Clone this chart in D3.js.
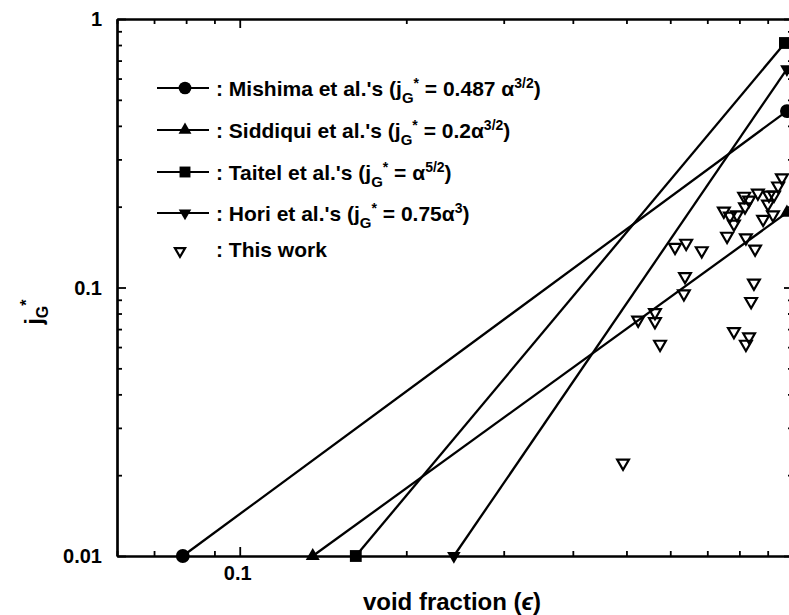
<!DOCTYPE html>
<head>
    <title>void fraction vs jG*</title>
    <meta charset="utf-8">
    <style>
        body { margin: 0; background: #fff; }
        svg { display: block; font-family: "Liberation Sans", Arial, sans-serif; font-weight: bold; }
    </style>
</head>

<body>

<div id="chart"></div>

<script src="https://d3js.org/d3.v7.min.js"></script>

<script>

var width = 789,
    height = 615;

// correlation lines, end points (alpha, jG*)
var mishimaAlpha = [0.0789, 0.975],  mishimaJ = [0.01, 0.454];
var siddiquiAlpha = [0.1355, 0.975], siddiquiJ = [0.01, 0.19];
var taitelAlpha = [0.1621, 0.967],   taitelJ = [0.01, 0.814];
var horiAlpha = [0.2438, 0.975],     horiJ = [0.01, 0.651];

// measured points ("This work")
var workAlpha = [0.493, 0.525, 0.563, 0.563, 0.575, 0.612, 0.641, 0.638, 0.635, 0.684,
                 0.750, 0.769, 0.782, 0.792, 0.760, 0.816, 0.833, 0.819, 0.822, 0.854,
                 0.864, 0.905, 0.924, 0.901, 0.883, 0.920, 0.940, 0.955, 0.850, 0.840,
                 0.782, 0.833, 0.822];
var workJ = [0.022, 0.075, 0.080, 0.074, 0.061, 0.140, 0.145, 0.109, 0.094, 0.136,
             0.191, 0.183, 0.171, 0.185, 0.154, 0.217, 0.210, 0.198, 0.152, 0.138,
             0.223, 0.219, 0.219, 0.203, 0.178, 0.185, 0.237, 0.254, 0.103, 0.088,
             0.068, 0.065, 0.061];

// ticks
var xMajor = [0.1, 1],
    xMinor = [0.06, 0.07, 0.08, 0.09, 0.2, 0.3, 0.4, 0.5, 0.6, 0.7, 0.8, 0.9],
    xLabels = ["0.1", ""];
var yMajor = [0.01, 0.1, 1],
    yMinor = [0.02, 0.03, 0.04, 0.05, 0.06, 0.07, 0.08, 0.09, 0.2, 0.3, 0.4, 0.5, 0.6, 0.7, 0.8, 0.9],
    yLabels = ["0.01", "0.1", "1"];

var svg = d3.select("#chart").append("svg")
    .attr("width", width)
    .attr("height", height);

var x = d3.scaleLog().domain([0.06, 1]).range([117, 793]);
var y = d3.scaleLog().domain([0.01, 1]).range([556, 19]);

// axes (ticks point inwards, major ticks longer)
function frame(axisFn, scale, transform, minor, major) {
    var gMinor = svg.append("g").attr("transform", transform)
        .call(axisFn(scale).tickValues(minor).tickSize(-5).tickSizeOuter(0).tickFormat(""));
    var gMajor = svg.append("g").attr("transform", transform)
        .call(axisFn(scale).tickValues(major).tickSize(-9).tickSizeOuter(0).tickFormat(""));
    [gMinor, gMajor].forEach(function(g) {
        g.select(".domain").attr("stroke", "#000").attr("stroke-width", 2.2);
        g.selectAll(".tick line").attr("stroke", "#000").attr("stroke-width", 1.8);
    });
}

frame(d3.axisBottom, x, "translate(0,556)", xMinor, xMajor);
frame(d3.axisTop, x, "translate(0,19)", xMinor, xMajor);
frame(d3.axisLeft, y, "translate(117,0)", yMinor, yMajor);
frame(d3.axisRight, y, "translate(793,0)", yMinor, yMajor);

// tick labels
svg.selectAll(".xlab")
    .data(xMajor)
    .enter().append("text")
    .attr("x", function(d) { return x(d) - 2; })
    .attr("y", 580)
    .attr("text-anchor", "middle")
    .style("font-size", "20px")
    .text(function(d, i) { return xLabels[i]; });

svg.selectAll(".ylab")
    .data(yMajor)
    .enter().append("text")
    .attr("x", 102)
    .attr("y", function(d) { return y(d) + 7; })
    .attr("text-anchor", "end")
    .style("font-size", "20px")
    .text(function(d, i) { return yLabels[i]; });

// axis titles
var xt = svg.append("text")
    .attr("x", 452)
    .attr("y", 610)
    .attr("text-anchor", "middle")
    .style("font-size", "24px");
xt.append("tspan").text("void fraction (");
xt.append("tspan").style("font-style", "italic").text("\u03f5");
xt.append("tspan").text(")");

var yt = svg.append("text")
    .attr("transform", "translate(42,312) rotate(-90)")
    .attr("text-anchor", "middle")
    .style("font-size", "23px");
yt.append("tspan").text("j");
yt.append("tspan").attr("dy", 6).style("font-size", "16px").text("G");
yt.append("tspan").attr("dy", -16).style("font-size", "16px").text("*");

// correlation lines
var series = [
    { a: mishimaAlpha, j: mishimaJ, sym: d3.symbolCircle, size: 150, rot: 0 },
    { a: siddiquiAlpha, j: siddiquiJ, sym: d3.symbolTriangle, size: 85, rot: 0 },
    { a: taitelAlpha, j: taitelJ, sym: d3.symbolSquare, size: 140, rot: 0 },
    { a: horiAlpha, j: horiJ, sym: d3.symbolTriangle, size: 80, rot: 180 }
];

var line = d3.line()
    .x(function(d) { return x(d[0]); })
    .y(function(d) { return y(d[1]); });

series.forEach(function(s) {
    var pts = d3.zip(s.a, s.j);
    svg.append("path")
        .attr("d", line(pts))
        .attr("fill", "none")
        .attr("stroke", "#000")
        .attr("stroke-width", 2.3);
    svg.selectAll(null)
        .data(pts)
        .enter().append("path")
        .attr("d", d3.symbol().type(s.sym).size(s.size))
        .attr("transform", function(d) {
            return "translate(" + x(d[0]) + "," + y(d[1]) + ") rotate(" + s.rot + ")";
        })
        .attr("fill", "#000");
});

// measured points
var downTri = d3.symbol().type(d3.symbolTriangle).size(60);
svg.selectAll(".work")
    .data(d3.zip(workAlpha, workJ))
    .enter().append("path")
    .attr("class", "work")
    .attr("d", downTri)
    .attr("transform", function(d) {
        return "translate(" + x(d[0]) + "," + (y(d[1]) - 1) + ") rotate(180)";
    })
    .attr("fill", "none")
    .attr("stroke", "#000")
    .attr("stroke-width", 2.2);

// legend
var legend = [
    [[": Mishima et al.'s (j", "n"], ["G", "sub"], ["*", "sup"], [" = 0.487 \u03b1", "n"], ["3/2", "sup"], [")", "n"]],
    [[": Siddiqui et al.'s (j", "n"], ["G", "sub"], ["*", "sup"], [" = 0.2\u03b1", "n"], ["3/2", "sup"], [")", "n"]],
    [[": Taitel et al.'s (j", "n"], ["G", "sub"], ["*", "sup"], [" = \u03b1", "n"], ["5/2", "sup"], [")", "n"]],
    [[": Hori et al.'s (j", "n"], ["G", "sub"], ["*", "sup"], [" = 0.75\u03b1", "n"], ["3", "sup"], [")", "n"]],
    [[": This work", "n"]]
];
var legendY = [88, 130, 172, 213, 249];

legend.forEach(function(parts, i) {
    var ly = legendY[i];
    if (i < 4) {
        svg.append("line")
            .attr("x1", 157).attr("x2", 209)
            .attr("y1", ly).attr("y2", ly)
            .attr("stroke", "#000").attr("stroke-width", 2);
        svg.append("path")
            .attr("d", d3.symbol().type(series[i].sym).size(series[i].size * 0.85))
            .attr("transform", "translate(185," + ly + ") rotate(" + series[i].rot + ")")
            .attr("fill", "#000");
    } else {
        svg.append("path")
            .attr("d", d3.symbol().type(d3.symbolTriangle).size(45))
            .attr("transform", "translate(180," + (ly + 2) + ") rotate(180)")
            .attr("fill", "none").attr("stroke", "#000").attr("stroke-width", 2.2);
    }
    var t = svg.append("text")
        .attr("x", 216)
        .attr("y", ly + 8)
        .style("font-size", "21px");
    var shift = 0;
    parts.forEach(function(p) {
        var ts = t.append("tspan").text(p[0]);
        var target = 0;
        if (p[1] === "sub") { target = 7; ts.style("font-size", "15px"); }
        if (p[1] === "sup") { target = -8; ts.style("font-size", "14px"); }
        ts.attr("dy", target - shift);
        shift = target;
    });
});

</script>

</body>
</html>
